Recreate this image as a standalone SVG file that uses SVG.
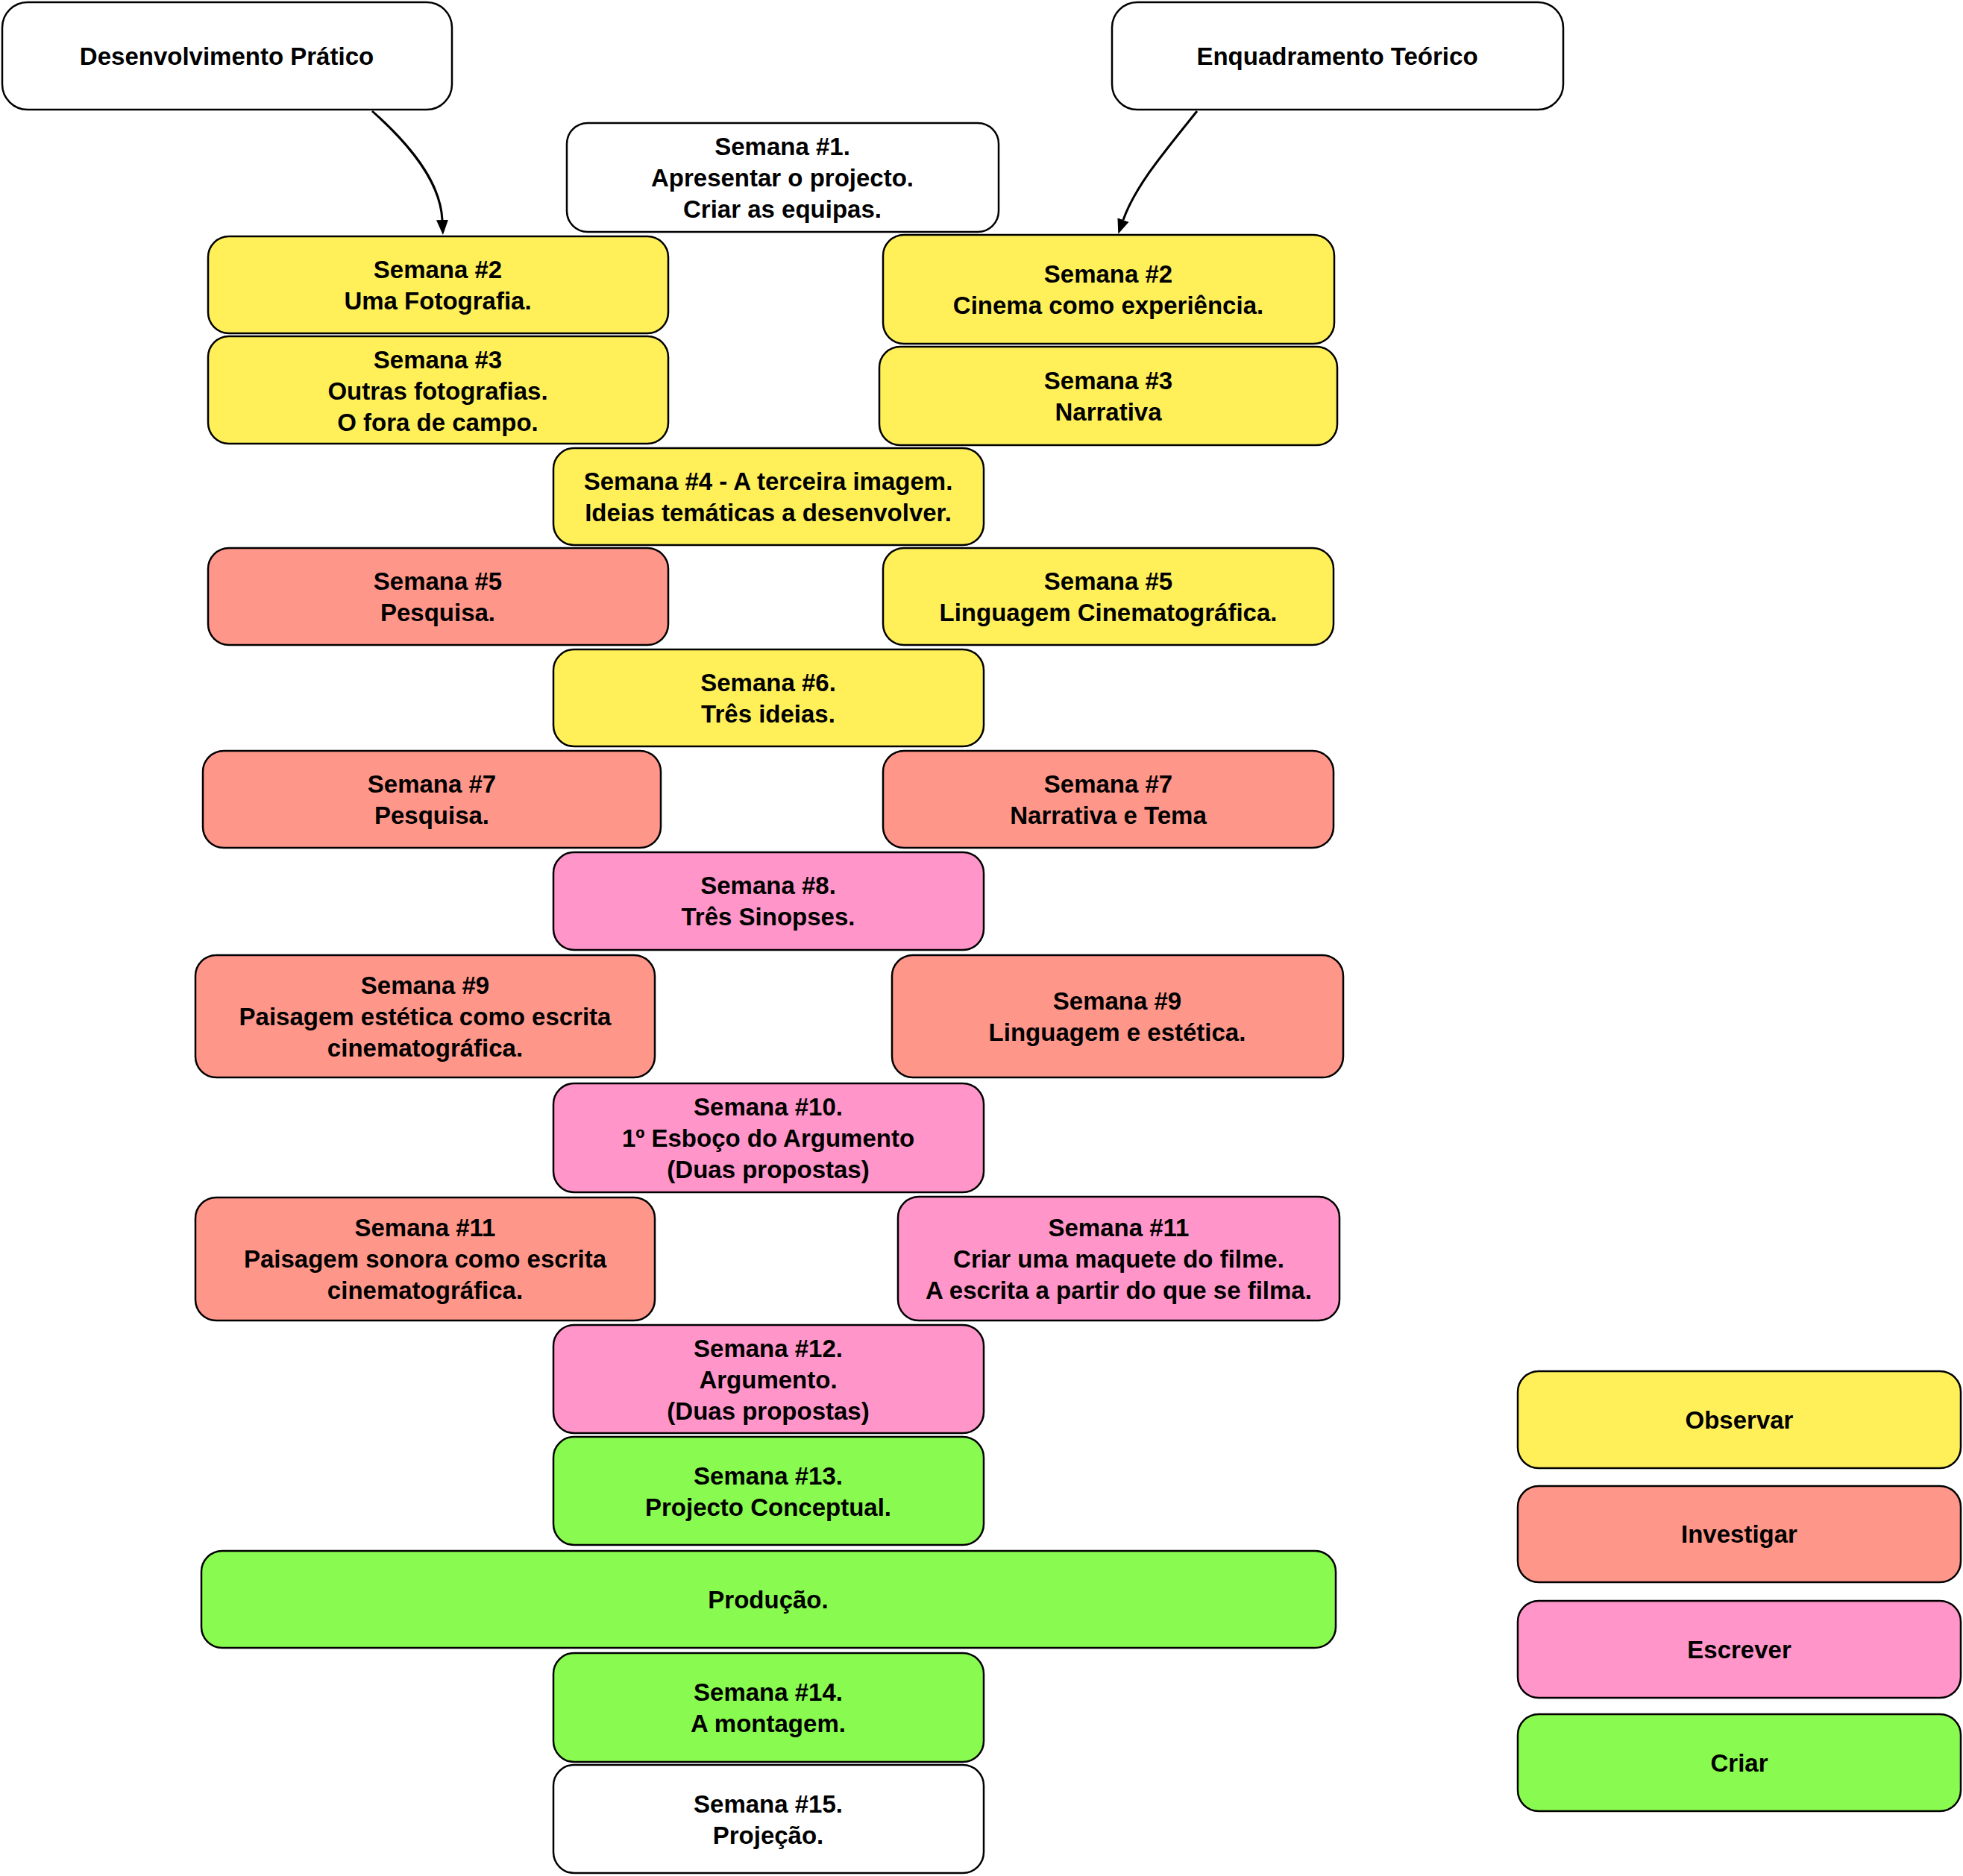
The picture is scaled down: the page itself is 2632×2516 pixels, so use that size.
<svg xmlns="http://www.w3.org/2000/svg" width="2632" height="2516" viewBox="0 0 2632 2516">
<style>
g rect{stroke:#000;stroke-width:2.5}
.w{fill:#fff}.y{fill:#FFF05A}.s{fill:#FF968A}.p{fill:#FF95C9}.g{fill:#89FA4F}
text{font-family:"Liberation Sans",Arial,sans-serif;font-weight:bold;font-size:33px;text-anchor:middle;fill:#000}
.c{fill:none;stroke:#000;stroke-width:3}
</style>
<defs>
<marker id="ah" markerUnits="userSpaceOnUse" markerWidth="22" markerHeight="18" refX="0" refY="8" orient="auto"><path d="M0,0 L20,8 L0,16 z" fill="#000"/></marker>
</defs>
<rect width="2632" height="2516" fill="#fff"/>
<g id="connectors">
<path class="c" d="M499,149 C562,205 591,252 593,295" marker-end="url(#ah)"/>
<path class="c" d="M1605,149 C1560,205 1522,250 1506,295" marker-end="url(#ah)"/>
</g>
<g id="n-dev"><rect class="w" x="3" y="3" width="603" height="144" rx="34"/><text x="304" y="87">Desenvolvimento Prático</text></g>
<g id="n-enq"><rect class="w" x="1491" y="3" width="605" height="144" rx="34"/><text x="1793" y="87">Enquadramento Teórico</text></g>
<g id="n-s1"><rect class="w" x="760" y="165" width="579" height="146" rx="28"/><text x="1049" y="208">Semana #1.</text><text x="1049" y="250">Apresentar o projecto.</text><text x="1049" y="292">Criar as equipas.</text></g>
<g id="n-s2l"><rect class="y" x="279" y="317" width="617" height="130" rx="28"/><text x="587" y="373">Semana #2</text><text x="587" y="415">Uma Fotografia.</text></g>
<g id="n-s3l"><rect class="y" x="279" y="451" width="617" height="144" rx="28"/><text x="587" y="494">Semana #3</text><text x="587" y="536">Outras fotografias.</text><text x="587" y="578">O fora de campo.</text></g>
<g id="n-s2r"><rect class="y" x="1184" y="315" width="605" height="146" rx="28"/><text x="1486" y="379">Semana #2</text><text x="1486" y="421">Cinema como experiência.</text></g>
<g id="n-s3r"><rect class="y" x="1179" y="465" width="614" height="132" rx="28"/><text x="1486" y="522">Semana #3</text><text x="1486" y="564">Narrativa</text></g>
<g id="n-s4"><rect class="y" x="742" y="601" width="577" height="130" rx="28"/><text x="1030" y="657">Semana #4 - A terceira imagem.</text><text x="1030" y="699">Ideias temáticas a desenvolver.</text></g>
<g id="n-s5l"><rect class="s" x="279" y="735" width="617" height="130" rx="28"/><text x="587" y="791">Semana #5</text><text x="587" y="833">Pesquisa.</text></g>
<g id="n-s5r"><rect class="y" x="1184" y="735" width="604" height="130" rx="28"/><text x="1486" y="791">Semana #5</text><text x="1486" y="833">Linguagem Cinematográfica.</text></g>
<g id="n-s6"><rect class="y" x="742" y="871" width="577" height="130" rx="28"/><text x="1030" y="927">Semana #6.</text><text x="1030" y="969">Três ideias.</text></g>
<g id="n-s7l"><rect class="s" x="272" y="1007" width="614" height="130" rx="28"/><text x="579" y="1063">Semana #7</text><text x="579" y="1105">Pesquisa.</text></g>
<g id="n-s7r"><rect class="s" x="1184" y="1007" width="604" height="130" rx="28"/><text x="1486" y="1063">Semana #7</text><text x="1486" y="1105">Narrativa e Tema</text></g>
<g id="n-s8"><rect class="p" x="742" y="1143" width="577" height="131" rx="28"/><text x="1030" y="1199">Semana #8.</text><text x="1030" y="1241">Três Sinopses.</text></g>
<g id="n-s9l"><rect class="s" x="262" y="1281" width="616" height="164" rx="28"/><text x="570" y="1333">Semana #9</text><text x="570" y="1375">Paisagem estética como escrita</text><text x="570" y="1417">cinematográfica.</text></g>
<g id="n-s9r"><rect class="s" x="1196" y="1281" width="605" height="164" rx="28"/><text x="1498" y="1354">Semana #9</text><text x="1498" y="1396">Linguagem e estética.</text></g>
<g id="n-s10"><rect class="p" x="742" y="1453" width="577" height="146" rx="28"/><text x="1030" y="1496">Semana #10.</text><text x="1030" y="1538">1º Esboço do Argumento</text><text x="1030" y="1580">(Duas propostas)</text></g>
<g id="n-s11l"><rect class="s" x="262" y="1606" width="616" height="165" rx="28"/><text x="570" y="1658">Semana #11</text><text x="570" y="1700">Paisagem sonora como escrita</text><text x="570" y="1742">cinematográfica.</text></g>
<g id="n-s11r"><rect class="p" x="1204" y="1605" width="592" height="166" rx="28"/><text x="1500" y="1658">Semana #11</text><text x="1500" y="1700">Criar uma maquete do filme.</text><text x="1500" y="1742">A escrita a partir do que se filma.</text></g>
<g id="n-s12"><rect class="p" x="742" y="1777" width="577" height="145" rx="28"/><text x="1030" y="1820">Semana #12.</text><text x="1030" y="1862">Argumento.</text><text x="1030" y="1904">(Duas propostas)</text></g>
<g id="n-s13"><rect class="g" x="742" y="1927" width="577" height="145" rx="28"/><text x="1030" y="1991">Semana #13.</text><text x="1030" y="2033">Projecto Conceptual.</text></g>
<g id="n-prod"><rect class="g" x="270" y="2080" width="1521" height="130" rx="28"/><text x="1030" y="2157">Produção.</text></g>
<g id="n-s14"><rect class="g" x="742" y="2217" width="577" height="146" rx="28"/><text x="1030" y="2281">Semana #14.</text><text x="1030" y="2323">A montagem.</text></g>
<g id="n-s15"><rect class="w" x="742" y="2367" width="577" height="145" rx="28"/><text x="1030" y="2431">Semana #15.</text><text x="1030" y="2473">Projeção.</text></g>
<g id="l-obs"><rect class="y" x="2035" y="1839" width="594" height="130" rx="28"/><text x="2332" y="1916">Observar</text></g>
<g id="l-inv"><rect class="s" x="2035" y="1993" width="594" height="129" rx="28"/><text x="2332" y="2069">Investigar</text></g>
<g id="l-esc"><rect class="p" x="2035" y="2147" width="594" height="130" rx="28"/><text x="2332" y="2224">Escrever</text></g>
<g id="l-cri"><rect class="g" x="2035" y="2299" width="594" height="130" rx="28"/><text x="2332" y="2376">Criar</text></g>
</svg>
